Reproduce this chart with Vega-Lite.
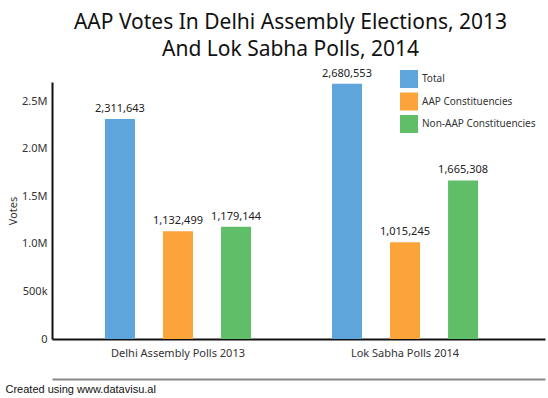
{
  "$schema": "https://vega.github.io/schema/vega-lite/v6.json",
  "autosize": {"type": "none"},
  "padding": {"left": 52, "top": 82, "right": 3, "bottom": 59},
  "width": 493,
  "height": 257,
  "background": "white",
  "config": {"view": {"stroke": null}, "font": "Noto Sans"},
  "title": {
    "text": ["AAP Votes In Delhi Assembly Elections, 2013", "And Lok Sabha Polls, 2014"],
    "fontSize": 21,
    "fontWeight": "normal",
    "color": "#111",
    "font": "Noto Sans",
    "anchor": "middle",
    "dx": -8,
    "offset": 8,
    "lineHeight": 26.5
  },
  "data": {
    "values": [
      {"poll": "Delhi Assembly Polls 2013", "series": "Total", "votes": 2311643},
      {"poll": "Delhi Assembly Polls 2013", "series": "AAP Constituencies", "votes": 1132499},
      {"poll": "Delhi Assembly Polls 2013", "series": "Non-AAP Constituencies", "votes": 1179144},
      {"poll": "Lok Sabha Polls 2014", "series": "Total", "votes": 2680553},
      {"poll": "Lok Sabha Polls 2014", "series": "AAP Constituencies", "votes": 1015245},
      {"poll": "Lok Sabha Polls 2014", "series": "Non-AAP Constituencies", "votes": 1665308}
    ]
  },
  "encoding": {
    "x": {
      "field": "poll", "type": "nominal", "sort": null,
      "scale": {"paddingInner": 0.2335, "paddingOuter": 0.2026, "align": 0.424}
    },
    "xOffset": {
      "field": "series", "type": "nominal",
      "sort": ["Total", "AAP Constituencies", "Non-AAP Constituencies"],
      "scale": {"paddingInner": 0.483, "paddingOuter": 0.24}
    },
    "y": {
      "field": "votes", "type": "quantitative",
      "scale": {"domain": [0, 2700000], "nice": false},
      "axis": {
        "values": [0, 500000, 1000000, 1500000, 2000000, 2500000],
        "labelExpr": "datum.value == 0 ? '0' : (datum.value < 1000000 ? format(datum.value/1000, 'd') + 'k' : format(datum.value/1000000, '.1f') + 'M')",
        "grid": false, "ticks": false,
        "domainColor": "#111", "domainWidth": 2,
        "labelColor": "#333", "labelFontSize": 11, "labelPadding": 5,
        "title": "Votes", "titleFontSize": 11, "titleFontWeight": "normal",
        "titleColor": "#333", "titlePadding": 3
      }
    }
  },
  "layer": [
    {
      "mark": {"type": "bar"},
      "encoding": {
        "x": {
          "field": "poll", "type": "nominal", "sort": null,
          "axis": {
            "orient": "bottom",
            "labelAngle": 0, "ticks": false,
            "domainColor": "#111", "domainWidth": 2,
            "labelColor": "#333", "labelFontSize": 11, "labelPadding": 8,
            "title": "Created using www.datavisu.al",
            "titleFont": "Liberation Sans", "titleFontSize": 11, "titleFontWeight": "normal",
            "titleColor": "#111", "titleAnchor": "start", "titleAlign": "left",
            "titleBaseline": "middle", "titleX": -47, "titleY": 50
          }
        },
        "color": {
          "field": "series", "type": "nominal",
          "scale": {
            "domain": ["Total", "AAP Constituencies", "Non-AAP Constituencies"],
            "range": ["#5DA5DA", "#FAA43A", "#60BD68"]
          },
          "legend": {
            "title": null, "orient": "none", "legendX": 348, "legendY": -12,
            "symbolType": "square", "symbolSize": 324, "symbolStrokeWidth": 0,
            "symbolOpacity": 1, "labelFontSize": 10, "labelColor": "#333",
            "rowPadding": 4.5, "labelOffset": 4
          }
        }
      }
    },
    {
      "mark": {"type": "text", "baseline": "bottom", "dy": -5, "fontSize": 11, "color": "#222"},
      "encoding": {
        "x": {
          "field": "poll", "type": "nominal", "sort": null,
          "axis": {
            "orient": "bottom",
            "offset": 40, "labels": false, "ticks": false, "title": null,
            "domainColor": "#888", "domainWidth": 2
          }
        },
        "text": {"field": "votes", "type": "quantitative", "format": ","}
      }
    }
  ],
  "resolve": {"axis": {"x": "independent"}}
}
